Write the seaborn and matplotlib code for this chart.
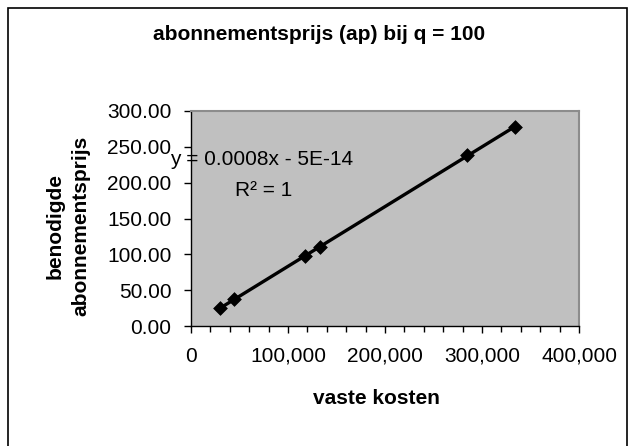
import matplotlib
matplotlib.use('Agg')
import matplotlib.pyplot as plt
import matplotlib.ticker as mticker
import pandas as pd
import seaborn as sns

# values
vaste_kosten = [30000, 44500, 117500, 132500, 285000, 334000]
abonnementsprijs = [25, 37, 98, 110, 238, 278]
title = 'abonnementsprijs (ap) bij q = 100'
xlabel = 'vaste kosten'
ylabel = 'benodigde\nabonnementsprijs'
eq_text = 'y = 0.0008x - 5E-14'
r2_text = 'R² = 1'

df = pd.DataFrame({'vaste kosten': vaste_kosten, 'prijs': abonnementsprijs})

sns.set_style('ticks')
plt.rcParams['font.family'] = ['Liberation Sans', 'DejaVu Sans']
plt.rcParams['text.color'] = 'black'
plt.rcParams['xtick.color'] = 'black'
plt.rcParams['ytick.color'] = 'black'

fig = plt.figure(figsize=(6.35, 4.46), dpi=100)
ax = fig.add_axes([191 / 635, 120 / 446, 388 / 635, 215 / 446])
ax.set_facecolor('#c0c0c0')

sns.regplot(
    data=df, x='vaste kosten', y='prijs', ax=ax,
    ci=None, truncate=True, marker='D', color='black',
    scatter_kws={'s': 7 ** 2, 'edgecolors': 'black', 'linewidths': 0.5, 'alpha': 1},
    line_kws={'linewidth': 2.4, 'color': 'black'},
)

ax.set_xlim(0, 400000)
ax.set_ylim(0, 300)
ax.xaxis.set_major_locator(mticker.MultipleLocator(100000))
ax.xaxis.set_minor_locator(mticker.MultipleLocator(20000))
ax.yaxis.set_major_locator(mticker.MultipleLocator(50))
ax.xaxis.set_major_formatter(mticker.FuncFormatter(lambda v, p: f'{v:,.0f}'))
ax.yaxis.set_major_formatter(mticker.FuncFormatter(lambda v, p: f'{v:.2f}'))
ax.tick_params(axis='both', which='major', length=5, width=1, color='black',
               labelsize=15, labelcolor='black', direction='out')
ax.tick_params(axis='x', which='major', pad=10)
ax.tick_params(axis='y', which='major', pad=9)
ax.tick_params(axis='x', which='minor', length=4, width=1, color='black', direction='out')

for side in ['left', 'bottom']:
    ax.spines[side].set_color('black')
    ax.spines[side].set_linewidth(1)
for side in ['top', 'right']:
    ax.spines[side].set_color('#8c8c8c')
    ax.spines[side].set_linewidth(1.5)

ax.set_xlabel('')
ax.set_ylabel('')
fig.text(376 / 635, 1 - 399 / 446, xlabel, ha='center', va='center',
         fontsize=15, fontweight='bold')
fig.text(68 / 635, 1 - 226 / 446, ylabel, ha='center', va='center',
         rotation=90, fontsize=15, fontweight='bold', linespacing=1.45)
fig.text(319 / 635, 1 - 35 / 446, title, ha='center', va='center',
         fontsize=15, fontweight='bold')

fig.text(262 / 635, 1 - 160 / 446, eq_text, ha='center', va='center', fontsize=15)
fig.text(264 / 635, 1 - 190 / 446, r2_text, ha='center', va='center', fontsize=15)

# chart frame
frame = plt.Rectangle((8 / 635, -0.05), 619 / 635, 1.05 - 8 / 446,
                      transform=fig.transFigure, fill=False,
                      edgecolor='black', linewidth=1.2)
fig.patches.append(frame)

fig.savefig('out.png', dpi=100)
